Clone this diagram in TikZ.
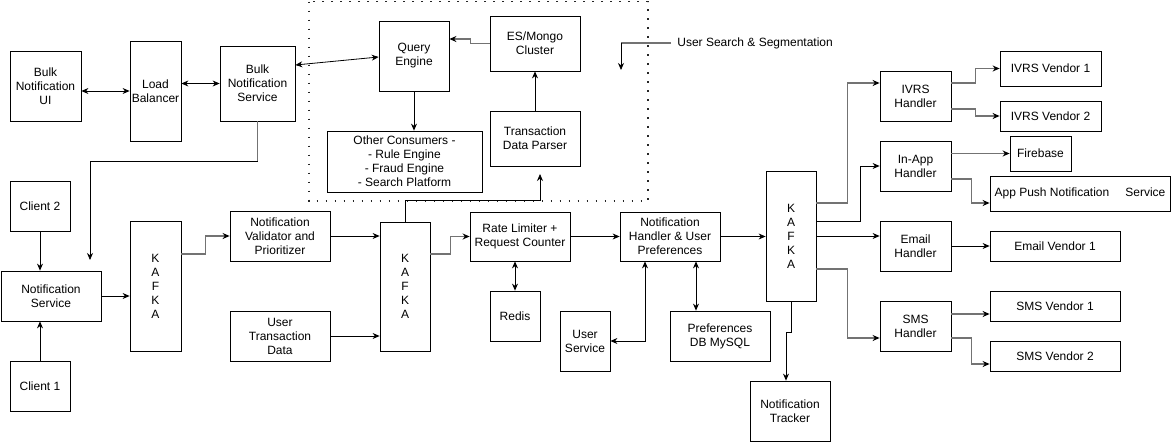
\documentclass[tikz,border=0pt]{standalone}
\usepackage{fontspec}
\setmainfont{Liberation Sans}
\usetikzlibrary{arrows.meta,positioning}

\begin{document}
\begin{tikzpicture}[x=1pt,y=-1pt,>={Stealth[length=7pt,width=6pt]},
    font=\fontsize{12}{14}\selectfont,line width=0.8pt,
    box/.style={draw,align=center,inner sep=0pt},
    soft/.style={draw=black!55,line width=1.3pt,>={Stealth[length=7pt,width=6pt,color=black]}},
    dotbox/.style={draw=black!85,line width=1.8pt,dash pattern=on 1.8pt off 7.2pt}]

    \useasboundingbox (0,0) rectangle (1171,442);

    % Search & segmentation group
    \draw [dotbox] (309,1.5) rectangle (648,201);
    \node [box,minimum width=70,minimum height=70] (query) at (414,56) {Query\\Engine};
    \node [box,minimum width=90,minimum height=55] (esmongo) at (535,43.5) {ES/Mongo\\Cluster};
    \node [box,minimum width=155,minimum height=61] (others) at (404.5,161.5) {Other Consumers -\\- Rule Engine\\- Fraud Engine\\- Search Platform};
    \node [box,minimum width=90,minimum height=55] (parser) at (535,138.5) {Transaction\\Data Parser};
    \node [anchor=west,inner xsep=6pt,inner ysep=0pt] (searchlbl) at (671,43) {User Search \& Segmentation};
    \coordinate (searchend) at (621,70);

    % Bulk path
    \node [box,minimum width=71,minimum height=70] (bulkui) at (45.5,86) {Bulk\\Notification\\UI};
    \node [box,minimum width=51,minimum height=100] (lb) at (155.5,91) {Load\\Balancer};
    \node [box,minimum width=75,minimum height=75] (bulksvc) at (257.5,83.5) {Bulk\\Notification\\Service};

    % Clients and first queue
    \node [box,minimum width=60,minimum height=50] (client2) at (40,206) {Client 2};
    \node [box,minimum width=100,minimum height=50] (notifsvc) at (51,296) {Notification\\Service};
    \node [box,minimum width=60,minimum height=50] (client1) at (40,386) {Client 1};
    \node [box,minimum width=51,minimum height=130] (kafka1) at (155.5,286) {K\\A\\F\\K\\A};
    \node [box,minimum width=100,minimum height=50] (validator) at (280,236) {Notification\\Validator and\\Prioritizer};
    \node [box,minimum width=100,minimum height=50] (usertxn) at (280,336) {User\\Transaction\\Data};

    % Second queue and handlers
    \node [box,minimum width=50,minimum height=129] (kafka2) at (405,286.5) {K\\A\\F\\K\\A};
    \node [box,minimum width=100,minimum height=49] (ratelim) at (520,236.5) {Rate Limiter +\\Request Counter};
    \node [box,minimum width=50,minimum height=50] (redis) at (515,316) {Redis};
    \node [box,minimum width=100,minimum height=49] (notifh) at (670,236.5) {Notification\\Handler \& User\\Preferences};
    \node [box,minimum width=50,minimum height=60] (usersvc) at (585,341) {User\\Service};
    \node [box,minimum width=100,minimum height=50] (prefdb) at (720,336) {Preferences\\DB MySQL};

    % Third queue and channels
    \node [box,minimum width=50,minimum height=130] (kafka3) at (791,236) {K\\A\\F\\K\\A};
    \node [box,minimum width=80,minimum height=60] (tracker) at (790,411) {Notification\\Tracker};
    \node [box,minimum width=71,minimum height=50] (ivrsh) at (915.5,96) {IVRS\\Handler};
    \node [box,minimum width=101,minimum height=35] (ivrs1) at (1050.5,68.5) {IVRS Vendor 1};
    \node [box,minimum width=101,minimum height=30] (ivrs2) at (1050.5,116) {IVRS Vendor 2};
    \node [box,minimum width=71,minimum height=50] (inapp) at (915.5,166) {In-App\\Handler};
    \node [box,minimum width=61,minimum height=35] (firebase) at (1040.5,153.5) {Firebase};
    \node [box,minimum width=180,minimum height=35] (apppush) at (1080,193.5) {App Push Notification\hspace{16pt}Service};
    \node [box,minimum width=71,minimum height=50] (emailh) at (915.5,246) {Email\\Handler};
    \node [box,minimum width=130,minimum height=30] (email1) at (1055,246) {Email Vendor 1};
    \node [box,minimum width=71,minimum height=50] (smsh) at (915.5,326) {SMS\\Handler};
    \node [box,minimum width=130,minimum height=30] (sms1) at (1055,306) {SMS Vendor 1};
    \node [box,minimum width=130,minimum height=30] (sms2) at (1055,356) {SMS Vendor 2};

    % Free ends of short arrows
    \coordinate (notifend) at (90,260);
    \coordinate (parserend) at (540,174);

    % Bulk connectors
    \draw [<->] (bulkui.east |- lb.west) -- (lb.west);
    \draw [<->] (lb.east |- bulksvc.west) -- (bulksvc.west);
    \draw [<->] (bulksvc.east |- 0,65) -- (query.west |- 0,57);
    \draw [soft] (bulksvc.south) -- (bulksvc.south |- 0,161);
    \draw [->] (bulksvc.south |- 0,161) -| (notifend);

    % Search group connectors
    \draw [soft,->] (esmongo.west) -- ++(-19,0) |- (query.east |- 0,39);
    \draw [->] (query.south) -- (others.north -| query.south);
    \draw [->] (parser.north) -- (esmongo.south);
    \draw [->] (kafka2.north) -- ++(0,-21) -| (parserend);
    \draw [soft] (searchlbl.west) -- (searchend |- searchlbl.west);
    \draw [->] (searchend |- searchlbl.west) -- (searchend);

    % Intake connectors
    \draw [->] (client2.south) -- (client2.south |- notifsvc.north);
    \draw [->] (client1.north) -- (client1.north |- notifsvc.south);
    \draw [->] (notifsvc.east) -- (notifsvc.east -| kafka1.west);
    \draw [soft,->] (kafka1.east |- 0,254) -- ++(24,0) |- (validator.west);
    \draw [->] (validator.east) -- (validator.east -| kafka2.west);
    \draw [->] (usertxn.east) -- (usertxn.east -| kafka2.west);

    % Processing connectors
    \draw [soft,->] (kafka2.east |- 0,254) -- ++(20,0) |- (ratelim.west);
    \draw [->] (ratelim.east) -- (notifh.west);
    \draw [->] (notifh.east) -- (notifh.east -| kafka3.west);
    \draw [<->] (ratelim.south -| redis.north) -- (redis.north);
    \draw [<->] (notifh.south -| 645,0) |- (usersvc.east);
    \draw [<->] (notifh.south -| 696,0) -- (prefdb.north -| 696,0);
    \draw [->] (kafka3.south) -- ++(0,31) -| ([xshift=-4pt]tracker.north);

    % Channel connectors
    \draw [soft,->] (kafka3.east |- 0,203) -- ++(31,0) |- (ivrsh.west |- 0,83);
    \draw [->] (kafka3.east |- 0,221) -- ++(44,0) |- (inapp.west);
    \draw [->] (kafka3.east |- 0,236) -- (emailh.west |- 0,236);
    \draw [soft,->] (kafka3.east |- 0,269) -- ++(31,0) |- (smsh.west |- 0,338);
    \draw [soft,->] (ivrsh.east |- 0,83) -- ++(24,0) |- (ivrs1.west);
    \draw [soft,->] (ivrsh.east |- 0,109) -- ++(24,0) |- (ivrs2.west);
    \draw [soft,->] (inapp.east |- firebase.west) -- (firebase.west);
    \draw [soft,->] (inapp.east |- 0,179) -- ++(20,0) |- (apppush.west |- 0,203);
    \draw [->] (emailh.east) -- (email1.west);
    \draw [soft,->] (smsh.east |- 0,314) -- (sms1.west |- 0,314);
    \draw [soft,->] (smsh.east |- 0,338) -- ++(20,0) |- (sms2.west |- 0,364);

\end{tikzpicture}
\end{document}
